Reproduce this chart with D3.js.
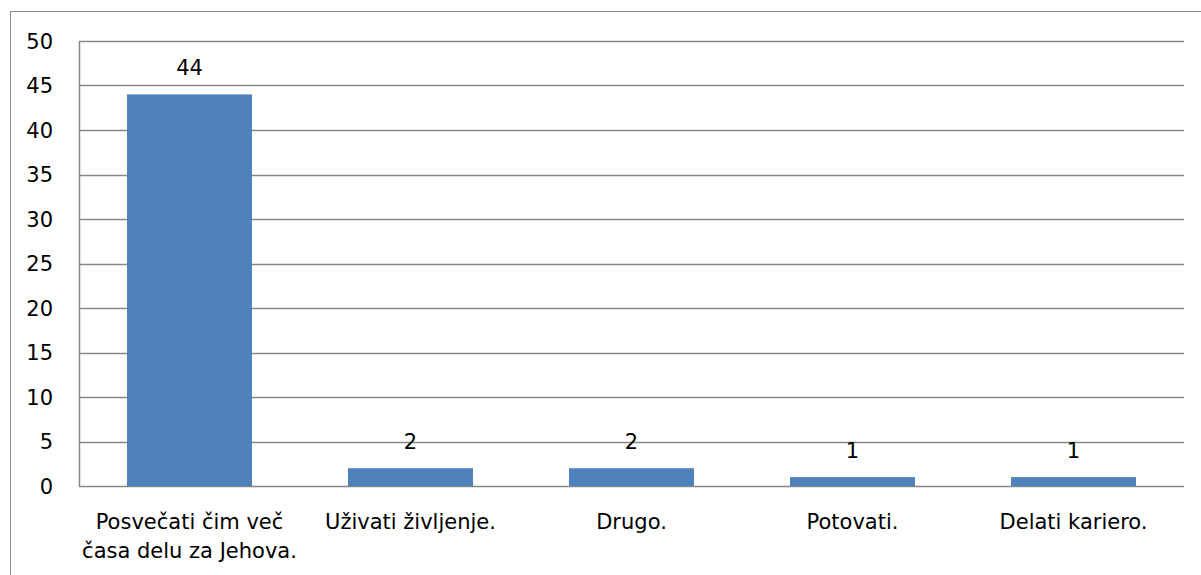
<!DOCTYPE html>
<html>
<head>
<meta charset="utf-8">
<script src="https://cdn.jsdelivr.net/npm/d3@7"></script>
<style>
  body { margin: 0; background: #fff; }
  svg { display: block; font-family: "DejaVu Sans", sans-serif; }
</style>
</head>
<body>
<svg width="1201" height="575"></svg>
<script>
var categories = [["Posvečati čim več", "časa delu za Jehova."], ["Uživati življenje."], ["Drugo."], ["Potovati."], ["Delati kariero."]];
var values = [44, 2, 2, 1, 1];
var yTicks = [0, 5, 10, 15, 20, 25, 30, 35, 40, 45, 50];

var svg = d3.select("svg");
var margin = {left: 79, right: 17, top: 41, bottom: 89};
var width = 1201 - margin.left - margin.right;
var height = 575 - margin.top - margin.bottom;
var fs = 21;

// outer chart border
svg.append("rect")
    .attr("x", 10.5).attr("y", 11.5)
    .attr("width", 1300).attr("height", 700)
    .attr("fill", "none")
    .attr("stroke", "#8c8c8c")
    .attr("stroke-width", 1);

var g = svg.append("g").attr("transform", "translate(" + margin.left + "," + margin.top + ")");

var p = 96 / 221;
var x = d3.scaleBand()
    .domain(d3.range(categories.length))
    .range([0, width])
    .paddingInner(p)
    .paddingOuter(p / 2);

var y = d3.scaleLinear().domain([0, 50]).range([height, 0]);

// gridlines
g.selectAll(".grid")
    .data(yTicks)
    .enter().append("line")
    .attr("x1", 0).attr("x2", width)
    .attr("y1", function(d) { return Math.round(y(d)) + 0.5; })
    .attr("y2", function(d) { return Math.round(y(d)) + 0.5; })
    .attr("stroke", "#878787")
    .attr("stroke-width", 1.5);

// left axis line
g.append("line")
    .attr("x1", 0.5).attr("x2", 0.5)
    .attr("y1", y(50)).attr("y2", y(0) + 1)
    .attr("stroke", "#878787")
    .attr("stroke-width", 1.5);

// y tick labels
g.selectAll(".ytick")
    .data(yTicks)
    .enter().append("text")
    .attr("x", -26)
    .attr("y", function(d) { return y(d); })
    .attr("dy", "0.36em")
    .attr("text-anchor", "end")
    .attr("font-size", fs)
    .attr("fill", "#000")
    .text(function(d) { return d; });

// bars
g.selectAll(".bar")
    .data(values)
    .enter().append("rect")
    .attr("x", function(d, i) { return x(i); })
    .attr("y", function(d) { return y(d); })
    .attr("width", x.bandwidth())
    .attr("height", function(d) { return y(0) - y(d); })
    .attr("fill", "#4f81bd");

// value labels
g.selectAll(".val")
    .data(values)
    .enter().append("text")
    .attr("x", function(d, i) { return x(i) + x.bandwidth() / 2; })
    .attr("y", function(d) { return y(d) - 19; })
    .attr("text-anchor", "middle")
    .attr("font-size", fs)
    .attr("fill", "#000")
    .text(function(d) { return d; });

// category labels
var cat = g.selectAll(".cat")
    .data(categories)
    .enter().append("text")
    .attr("text-anchor", "middle")
    .attr("font-size", fs)
    .attr("fill", "#000")
    .attr("transform", function(d, i) { return "translate(" + (x(i) + x.bandwidth() / 2) + "," + (height + 43) + ")"; });

cat.selectAll("tspan")
    .data(function(d) { return d; })
    .enter().append("tspan")
    .attr("x", 0)
    .attr("y", function(d, i) { return i * 29; })
    .text(function(d) { return d; });
</script>
</body>
</html>
